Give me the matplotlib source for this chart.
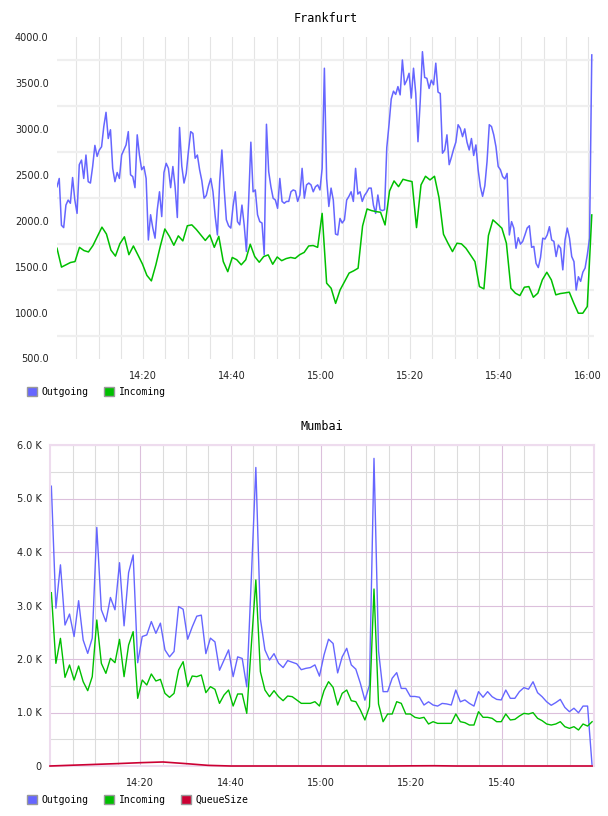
import numpy as np
import pandas as pd
import matplotlib
matplotlib.use("Agg")
import matplotlib.pyplot as plt
import matplotlib.dates as mdates
from matplotlib.patches import Patch
from matplotlib.ticker import FixedLocator, FuncFormatter

day = "2024-01-01 "

# Frankfurt, outgoing (every ~30 s)
fra_out = [
    2370, 2460, 1950, 1925, 2170, 2225, 2190, 2470, 2225, 2080, 2610, 2660, 2460, 2715, 2425, 2410,
    2590, 2820, 2700, 2770, 2805, 3025, 3180, 2895, 2990, 2570, 2425, 2525, 2460, 2715, 2770, 2825,
    2970, 2500, 2480, 2360, 2935, 2715, 2555, 2590, 2460, 1790, 2065, 1920, 1810, 2120, 2315, 2045,
    2525, 2625, 2570, 2360, 2590, 2370, 2035, 3015, 2595, 2410, 2515, 2760, 2970,
    2950, 2680, 2715, 2555, 2435, 2245, 2275, 2380, 2460, 2315, 2045, 1845, 2425, 2770, 2355, 2010,
    1945, 1920, 2155, 2315, 1990, 1955, 2170, 1955, 1665, 2210, 2855, 2315, 2335, 2065, 1990, 1975,
    1630, 3050, 2535, 2370, 2245, 2225, 2135, 2460, 2210, 2190, 2210, 2210, 2315, 2335, 2325, 2210,
    2280, 2570, 2245, 2390, 2410, 2390, 2315, 2370, 2390, 2335, 2570, 3660,
    2460, 2155, 2355, 2225, 1855, 1845, 2025, 1975, 2010, 2225, 2265, 2315, 2210, 2570, 2290, 2315,
    2210, 2275, 2310, 2355, 2355, 2170, 2080, 2280, 2120, 2110, 2120, 2795, 3045, 3325, 3410, 3375,
    3460, 3370, 3750, 3480, 3530, 3605, 3335, 3660, 3385, 2860, 3295, 3840, 3560, 3550, 3440, 3530,
    3480, 3715, 3400, 3385, 2735, 2770, 2935, 2610, 2690, 2780, 2855, 3045,
    3005, 2915, 3000, 2855, 2770, 2895, 2710, 2825, 2555, 2370, 2265, 2380, 2645, 3045, 3025, 2935,
    2805, 2590, 2555, 2480, 2455, 2515, 1845, 1990, 1920, 1700, 1815, 1745, 1775, 1845, 1920, 1945,
    1710, 1720, 1535, 1490, 1600, 1810, 1800, 1845, 1935, 1790, 1775, 1610, 1735, 1700, 1465, 1790,
    1920, 1810, 1610, 1555, 1245, 1390, 1340, 1440, 1485, 1630, 1810, 3805,
]

# Frankfurt, incoming (every ~1 min)
fra_in = [
    1700, 1495, 1520, 1545, 1555, 1710, 1675, 1660, 1730, 1830, 1930, 1855, 1680, 1615, 1750, 1825,
    1630, 1725, 1628, 1530, 1405, 1345, 1520, 1725, 1910, 1830, 1733, 1835, 1780, 1945,
    1955, 1905, 1845, 1785, 1845, 1710, 1830, 1555, 1445, 1600, 1575, 1520, 1575, 1744, 1610, 1548,
    1610, 1628, 1526, 1605, 1565, 1588, 1600, 1590, 1630, 1655, 1725, 1730, 1710, 2080,
    1320, 1265, 1100, 1247, 1338, 1430, 1454, 1483, 1943, 2128, 2110, 2099, 2092, 1954, 2324, 2433,
    2371, 2451, 2437, 2426, 1925, 2390, 2484, 2444, 2484, 2252, 1853, 1755, 1664, 1755,
    1748, 1700, 1628, 1555, 1283, 1258, 1838, 2009, 1965, 1918, 1755, 1265, 1211, 1185, 1276, 1283,
    1167, 1211, 1356, 1439, 1356, 1193, 1207, 1214, 1222, 1102, 993, 993, 1066, 2063,
]

# Mumbai (every ~1 min)
mum_out = [
    5230, 2950, 3760, 2635, 2840, 2420, 3090, 2355, 2105, 2390, 4460, 2920, 2700, 3150, 2920, 3800,
    2620, 3615, 3945, 1930, 2420, 2450, 2700, 2480, 2670, 2170, 2040, 2140, 2980, 2930, 2370, 2600,
    2800, 2820, 2100, 2390, 2320, 1790, 1980, 2170, 1670, 2040, 2010, 1480, 3500, 5580, 2750, 2170,
    1980, 2100, 1920, 1840, 1970, 1940, 1910, 1800,
    1825, 1840, 1890, 1680, 2075, 2370, 2290, 1740, 2040, 2200, 1890, 1810, 1545, 1230, 1510, 5750,
    2150, 1390, 1390, 1640, 1745, 1450, 1450, 1300, 1300, 1285, 1140, 1200, 1140, 1120, 1170, 1160,
    1140, 1420, 1200, 1235, 1170, 1120, 1390, 1285, 1390, 1295, 1245, 1235, 1420, 1265, 1265, 1390,
    1465, 1435, 1575, 1370, 1295, 1200, 1135, 1185, 1245, 1095, 1015, 1080, 995, 1120, 1120, 0,
]
mum_in = [
    3240, 1919, 2386, 1657, 1888, 1607, 1869, 1576, 1408, 1670, 2729, 1919, 1732, 2012, 1931, 2367,
    1670, 2261, 2511, 1265, 1607, 1514, 1720, 1589, 1620, 1358, 1283, 1358, 1794, 1950, 1483, 1682,
    1670, 1701, 1371, 1483, 1433, 1171, 1327, 1420, 1121, 1346, 1346, 984, 2250, 3477, 1763, 1420,
    1296, 1408, 1296, 1221, 1308, 1296, 1234, 1171,
    1171, 1171, 1202, 1121, 1408, 1576, 1470, 1140, 1358, 1420, 1221, 1202, 1047, 860, 1109, 3308,
    1159, 828, 972, 972, 1202, 1171, 972, 972, 910, 891, 910, 785, 828, 797, 797, 797,
    797, 972, 828, 810, 766, 766, 1015, 910, 910, 891, 828, 828, 972, 860, 872, 934,
    984, 972, 997, 891, 847, 785, 766, 785, 828, 735, 704, 735, 673, 785, 747, 828,
]
# QueueSize every 5 min
mum_queue = [0, 15, 30, 45, 62, 75, 45, 12, 0, 0, 0, 0, 0, 0, 0, 0, 3, 5, 0, 0, 0, 0, 0, 0, 0]

fra_out_t = pd.date_range(day + "14:00:40", day + "16:00:50", periods=len(fra_out))
fra_in_t = pd.date_range(day + "14:00:40", day + "16:00:50", periods=len(fra_in))
mum_t = pd.date_range(day + "14:00:18", day + "16:00:00", periods=len(mum_out))
mum_queue_t = pd.date_range(day + "14:00:00", day + "16:00:00", periods=len(mum_queue))

fra_xticks = ["14:20", "14:40", "15:00", "15:20", "15:40", "16:00"]
mum_xticks = ["14:20", "14:40", "15:00", "15:20", "15:40"]

C_OUT = "#6666ff"
C_IN = "#00c000"
C_Q = "#cc0033"
MONO = "DejaVu Sans Mono"

fig = plt.figure(figsize=(6.08, 8.16), dpi=100)

def to_num(lst):
    return [mdates.date2num(pd.Timestamp(day + s)) for s in lst]

# ---------------- Frankfurt ----------------
ax1 = fig.add_axes([57 / 608, 1 - 358.5 / 816, (594 - 57) / 608, (358.5 - 37) / 816])
ax1.plot(fra_out_t, fra_out, color=C_OUT, lw=1.1)
ax1.plot(fra_in_t, fra_in, color=C_IN, lw=1.1)
ax1.set_xlim(pd.Timestamp(day + "14:00:40"), pd.Timestamp(day + "16:01:20"))
ax1.set_ylim(500, 4000)
ax1.yaxis.set_major_locator(FixedLocator(np.arange(500, 4001, 500)))
ax1.yaxis.set_major_formatter(FuncFormatter(lambda v, p: "%.1f" % v))
ax1.yaxis.set_minor_locator(FixedLocator(np.arange(750, 4000, 500)))
ax1.xaxis.set_major_locator(FixedLocator(to_num(fra_xticks)))
ax1.xaxis.set_major_formatter(mdates.DateFormatter("%H:%M"))
ax1.xaxis.set_minor_locator(mdates.MinuteLocator(byminute=range(0, 60, 5)))
ax1.grid(which="minor", axis="y", color="#efefef", lw=1.6)
ax1.grid(which="both", axis="x", color="#e4e4e4", lw=0.8)
ax1.set_axisbelow(True)
for s in ax1.spines.values():
    s.set_visible(False)
ax1.tick_params(which="both", length=0, labelsize=7, colors="#222222")
ax1.tick_params(axis="y", pad=6)
ax1.tick_params(axis="x", pad=9)
ax1.set_title("Frankfurt", fontsize=8.5, family=MONO, pad=11)

fig.legend(handles=[Patch(facecolor=C_OUT, edgecolor="#999999"),
                    Patch(facecolor=C_IN, edgecolor="#999999")],
           labels=["Outgoing", "Incoming"], loc="center left",
           bbox_to_anchor=(20 / 608, 1 - 392 / 816), ncol=2, frameon=False,
           prop={"family": MONO, "size": 7}, handlelength=1.0, handleheight=1.0,
           handletextpad=0.5, columnspacing=1.6, borderpad=0.2)

# ---------------- Mumbai ----------------
ax2 = fig.add_axes([50 / 608, 1 - 766 / 816, (594 - 50) / 608, (766 - 445) / 816])
ax2.plot(mum_t, mum_out, color=C_OUT, lw=1.0)
ax2.plot(mum_t, mum_in, color=C_IN, lw=1.0)
ax2.plot(mum_queue_t, mum_queue, color=C_Q, lw=1.2, clip_on=False, zorder=5)
ax2.set_xlim(pd.Timestamp(day + "14:00:00"), pd.Timestamp(day + "16:00:25"))
ax2.set_ylim(0, 6000)
ax2.yaxis.set_major_locator(FixedLocator(np.arange(0, 6001, 1000)))
ax2.yaxis.set_major_formatter(FuncFormatter(lambda v, p: "0" if v == 0 else "%.1f K" % (v / 1000)))
ax2.yaxis.set_minor_locator(FixedLocator(np.arange(500, 6000, 1000)))
ax2.xaxis.set_major_locator(FixedLocator(to_num(mum_xticks)))
ax2.xaxis.set_major_formatter(mdates.DateFormatter("%H:%M"))
ax2.xaxis.set_minor_locator(mdates.MinuteLocator(byminute=range(5, 60, 5)))
ax2.grid(which="minor", color="#dcdcdc", lw=0.8)
ax2.grid(which="major", color="#dcc0dc", lw=0.8)
ax2.set_axisbelow(True)
for s in ax2.spines.values():
    s.set_color("#eedcee")
    s.set_linewidth(1.5)
ax2.tick_params(which="both", length=0, labelsize=7, colors="#222222")
ax2.tick_params(axis="y", pad=6)
ax2.tick_params(axis="x", pad=9)
ax2.set_title("Mumbai", fontsize=8.5, family=MONO, pad=11)

fig.legend(handles=[Patch(facecolor=C_OUT, edgecolor="#999999"),
                    Patch(facecolor=C_IN, edgecolor="#999999"),
                    Patch(facecolor=C_Q, edgecolor="#999999")],
           labels=["Outgoing", "Incoming", "QueueSize"], loc="center left",
           bbox_to_anchor=(20 / 608, 1 - 800 / 816), ncol=3, frameon=False,
           prop={"family": MONO, "size": 7}, handlelength=1.0, handleheight=1.0,
           handletextpad=0.5, columnspacing=1.6, borderpad=0.2)

fig.savefig("out.png", dpi=100)
